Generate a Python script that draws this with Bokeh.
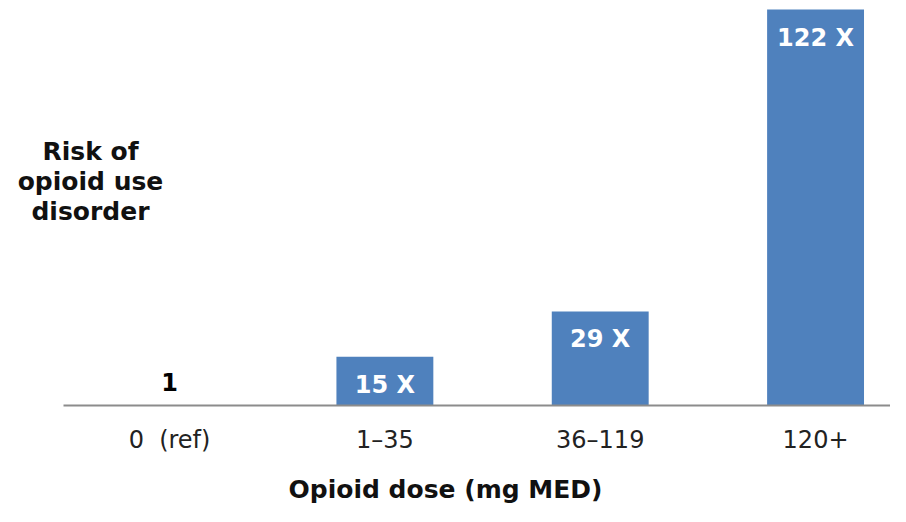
from bokeh.plotting import figure
from bokeh.models import ColumnDataSource, FixedTicker, Label, Range1d
from bokeh.core.properties import value
from bokeh.embed import file_html
from bokeh.resources import INLINE

categories = ["0\u00a0 (ref)", "1\u201335", "36\u2013119", "120+"]
risk = [1, 15, 29, 122]
labels = ["1", "15 X", "29 X", "122 X"]

FONT = "DejaVu Sans"
BAR = "#4F81BD"

xpos = [i + 0.5 for i in range(len(categories))]
is_ref = [i == 0 for i in range(len(categories))]

src_bars = ColumnDataSource(dict(x=xpos, top=risk,
                                 alpha=[0 if r else 1 for r in is_ref]))
src_in = ColumnDataSource(dict(x=[x for x, r in zip(xpos, is_ref) if not r],
                               y=[v for v, r in zip(risk, is_ref) if not r],
                               t=[l for l, r in zip(labels, is_ref) if not r]))
src_out = ColumnDataSource(dict(x=[x for x, r in zip(xpos, is_ref) if r],
                                y=[v for v, r in zip(risk, is_ref) if r],
                                t=[l for l, r in zip(labels, is_ref) if r]))

p = figure(width=890, height=506, output_backend="svg", toolbar_location=None,
           x_range=Range1d(-0.285, 3.848), y_range=Range1d(0, 124.8),
           min_border_left=0, min_border_right=0, min_border_top=0, min_border_bottom=101,
           y_axis_location=None)
p.outline_line_color = None
p.xgrid.visible = False
p.ygrid.visible = False

p.vbar(x="x", top="top", width=0.45, bottom=0, source=src_bars,
       fill_color=BAR, fill_alpha="alpha", line_color=None)

p.text(x="x", y="y", text="t", source=src_in, text_font=value(FONT),
       text_font_style="bold", text_font_size="24px", text_color="white",
       text_align="center", text_baseline="middle", y_offset=28)
p.text(x="x", y="y", text="t", source=src_out, text_font=value(FONT),
       text_font_style="bold", text_font_size="24px", text_color="black",
       text_align="center", text_baseline="middle", y_offset=-20)

ax = p.xaxis[0]
ax.bounds = (0.008, 3.848)
ax.ticker = FixedTicker(ticks=xpos)
ax.major_label_overrides = {x: c for x, c in zip(xpos, categories)}
ax.major_tick_line_color = None
ax.minor_tick_line_color = None
ax.major_tick_out = 0
ax.major_tick_in = 0
ax.axis_line_color = "#8c8c8c"
ax.axis_line_width = 2
ax.major_label_standoff = 20
ax.major_label_text_font = FONT
ax.major_label_text_font_size = "24px"
ax.major_label_text_color = "#222222"
ax.axis_label = "Opioid dose (mg MED)"
ax.axis_label_text_font = FONT
ax.axis_label_text_font_style = "bold"
ax.axis_label_text_font_size = "25px"
ax.axis_label_text_color = "#111111"
ax.axis_label_standoff = 18

p.add_layout(Label(x=90, y=224, x_units="screen", y_units="screen",
                   text="Risk of\nopioid use\ndisorder", text_font=FONT,
                   text_font_style="bold", text_font_size="25px", text_color="#111111",
                   text_align="center", text_baseline="middle", text_line_height=1.05))

open("out.html", "w").write(file_html(p, INLINE))
